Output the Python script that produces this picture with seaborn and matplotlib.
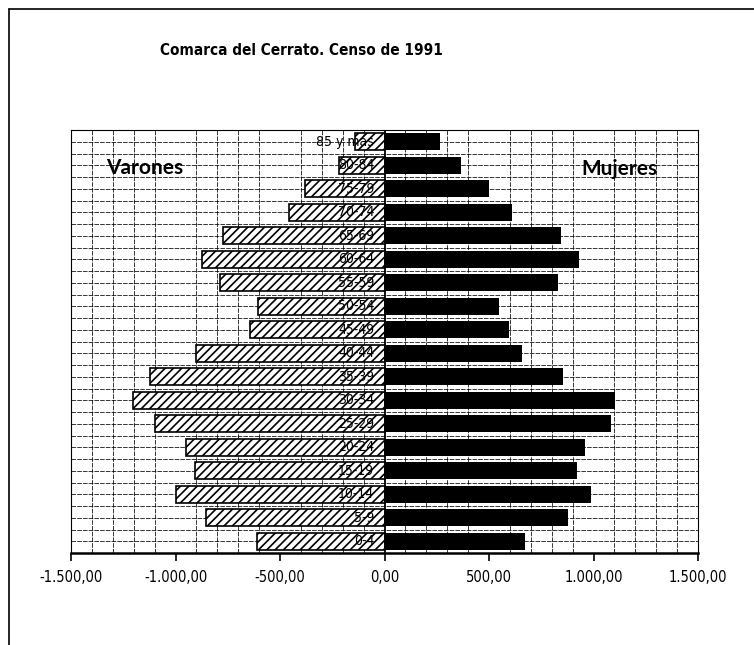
import numpy as np
import pandas as pd
import matplotlib
matplotlib.use("Agg")
import matplotlib.pyplot as plt
from matplotlib.lines import Line2D
from matplotlib.ticker import FuncFormatter, MultipleLocator
import seaborn as sns


# grupos de edad, de arriba abajo
grupos = ["85 y más", "80-84", "75-79", "70-74", "65-69", "60-64", "55-59",
          "50-54", "45-49", "40-44", "35-39", "30-34", "25-29", "20-24",
          "15-19", "10-14", "5-9", "0-4"]
varones = [140, 220, 381, 456, 774, 874, 786, 604, 646, 901, 1120, 1202,
           1099, 952, 906, 997, 855, 612]
mujeres = [263, 365, 499, 608, 842, 930, 828, 549, 595, 657, 853, 1102,
           1085, 958, 920, 990, 877, 670]

df = pd.DataFrame({"grupo": grupos,
                   "varones": [-v for v in varones],
                   "mujeres": mujeres})

sns.set_style("white")
plt.rcParams["font.family"] = ["DejaVu Sans"]
plt.rcParams["font.stretch"] = "condensed"
plt.rcParams["text.color"] = "black"
plt.rcParams["xtick.color"] = "black"
plt.rcParams["hatch.linewidth"] = 1.2

fig = plt.figure(figsize=(7.54, 6.45), dpi=100)
ax = fig.add_axes([0.0942, 0.1426, 0.8316, 0.6558])

sns.barplot(data=df, x="varones", y="grupo", order=grupos, orient="h",
            color="white", edgecolor="black", linewidth=1.2, hatch="////",
            width=0.74, saturation=1, ax=ax)
sns.barplot(data=df, x="mujeres", y="grupo", order=grupos, orient="h",
            color="black", edgecolor="black", linewidth=0,
            width=0.74, saturation=1, ax=ax)

ax.set_xlim(-1500, 1500)
ax.set_ylim(len(grupos) - 0.5, -0.5)
ax.set_xlabel("")
ax.set_ylabel("")

# rejilla
ax.set_axisbelow(True)
ax.xaxis.set_major_locator(MultipleLocator(500))
ax.xaxis.set_minor_locator(MultipleLocator(100))
ax.set_yticks(np.arange(-0.5, len(grupos), 0.5), minor=True)
ax.set_yticks([])
ax.grid(which="minor", axis="both", color="black", linewidth=0.55,
        linestyle=(0, (6, 1.5)))
ax.axvline(0, color="black", linewidth=1.3, zorder=3)

ax.xaxis.set_major_formatter(FuncFormatter(
    lambda v, p: f"{v:,.2f}".replace(",", "X").replace(".", ",").replace("X", ".")))
ax.tick_params(axis="x", which="major", direction="out", length=6, width=1.2,
               labelsize=10.5, pad=6, bottom=True, labelcolor="black")
ax.tick_params(axis="both", which="minor", length=0)

for lado in ["left", "right", "top"]:
    ax.spines[lado].set_linewidth(0.8)
    ax.spines[lado].set_color("black")
ax.spines["bottom"].set_linewidth(1.8)
ax.spines["bottom"].set_color("black")

# etiquetas de edad dentro de las barras
for i, g in enumerate(grupos):
    ax.text(-50, i, g, ha="right", va="center", fontsize=10, color="black", zorder=4)

ax.text(-1150, 1.12, "Varones", ha="center", va="center", fontsize=15,
        fontweight="bold", family=["Lato", "DejaVu Sans"], fontstretch="normal")
ax.text(1125, 1.15, "Mujeres", ha="center", va="center", fontsize=15,
        fontweight="bold", family=["Lato", "DejaVu Sans"], fontstretch="normal")

fig.text(0.40, 0.922, "Comarca del Cerrato. Censo de 1991", ha="center",
         va="center", fontsize=11, fontweight="bold")

# marco exterior
fig.add_artist(Line2D([0.012, 0.012], [0, 0.986], color="black", linewidth=1.2))
fig.add_artist(Line2D([0.012, 1], [0.986, 0.986], color="black", linewidth=1.2))

fig.savefig("out.png", dpi=100)
